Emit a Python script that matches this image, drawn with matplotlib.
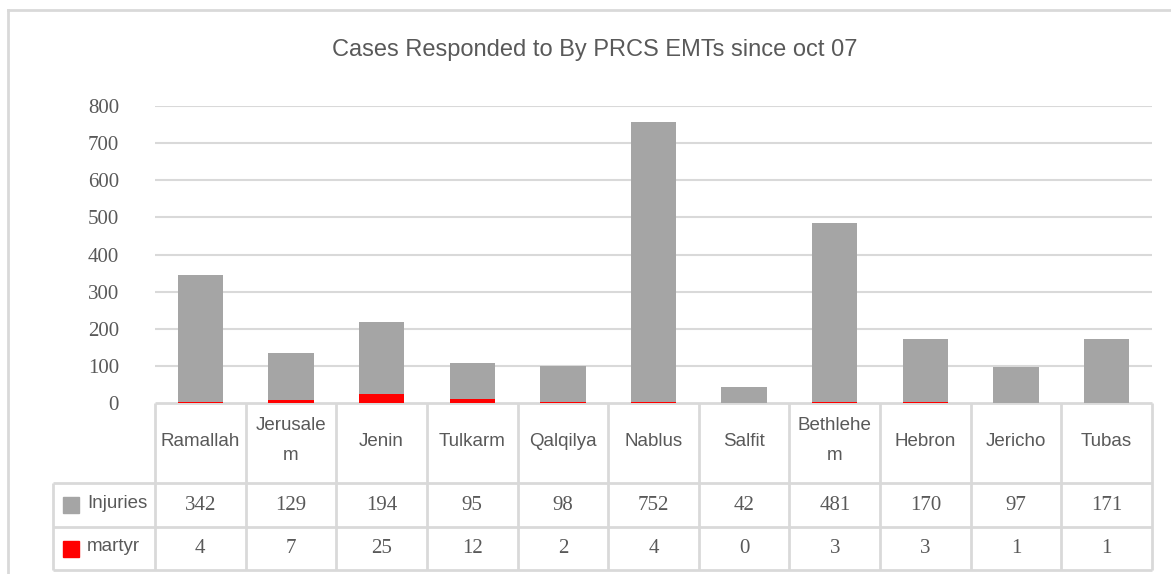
import matplotlib
matplotlib.use('Agg')
import matplotlib.pyplot as plt
import numpy as np
from matplotlib.patches import Rectangle

# data
cities = ['Ramallah', 'Jerusale\nm', 'Jenin', 'Tulkarm', 'Qalqilya', 'Nablus',
          'Salfit', 'Bethlehe\nm', 'Hebron', 'Jericho', 'Tubas']
injuries = [342, 129, 194, 95, 98, 752, 42, 481, 170, 97, 171]
martyr = [4, 7, 25, 12, 2, 4, 0, 3, 3, 1, 1]
series_names = ['Injuries', 'martyr']
yticks = [0, 100, 200, 300, 400, 500, 600, 700, 800]

GRAY = '#A5A5A5'
RED = '#FF0000'
GRID = '#D9D9D9'
TXT = '#595959'
SANS = 'Liberation Sans'
SERIF = 'Liberation Serif'

W, H = 1171, 574
fig = plt.figure(figsize=(W / 100, H / 100), dpi=100)

# pixel-space overlay for frame + table
tab = fig.add_axes([0, 0, 1, 1])
tab.set_xlim(0, W)
tab.set_ylim(H, 0)
tab.axis('off')

# plot area in pixels
px_left, px_right = 155, 1152
px_top, px_bot = 106, 403
ax = fig.add_axes([px_left / W, 1 - px_bot / H, (px_right - px_left) / W, (px_bot - px_top) / H])
ax.set_facecolor('none')

x = np.arange(len(cities))
ax.bar(x, martyr, width=0.5, color=RED, zorder=3)
ax.bar(x, injuries, bottom=martyr, width=0.5, color=GRAY, zorder=3)
ax.set_xlim(-0.5, len(cities) - 0.5)
ax.set_ylim(0, 800)
ax.set_yticks(yticks)
ax.set_yticklabels([str(t) for t in yticks], fontfamily=SERIF, fontsize=15, color=TXT)
ax.set_xticks([])
ax.tick_params(axis='y', length=0, pad=26)
for s in ax.spines.values():
    s.set_visible(False)
for t in yticks[1:]:
    ax.axhline(t, color=GRID, lw=1.5, zorder=1)

# title
fig.text(595 / W, 1 - 50 / H, 'Cases Responded to By PRCS EMTs since oct 07',
         ha='center', va='center', fontsize=17, fontfamily=SANS, color=TXT)

# outer chart frame (cut at right and bottom)
tab.plot([8, W], [10, 10], color=GRID, lw=2)
tab.plot([8, 8], [10, H], color=GRID, lw=2)

# data table
edges = np.linspace(px_left, px_right, len(cities) + 1)
centers = (edges[:-1] + edges[1:]) / 2
row_lines = [403, 483, 527, 570]
tab_left = 53
lc = dict(color=GRID, lw=2, solid_capstyle='butt')
tab.plot([px_left, px_right], [row_lines[0], row_lines[0]], **lc)
for y in row_lines[1:]:
    tab.plot([tab_left, px_right], [y, y], **lc)
for e in edges:
    tab.plot([e, e], [row_lines[0], row_lines[-1]], **lc)
tab.plot([tab_left, tab_left], [row_lines[1], row_lines[-1]], **lc)

for cx, name in zip(centers, cities):
    tab.text(cx, (row_lines[0] + row_lines[1]) / 2 - 2, name, ha='center', va='center',
             fontsize=13.5, fontfamily=SANS, color=TXT, linespacing=2.0)

rows = [injuries, martyr]
colors = [GRAY, RED]
for r, (vals, nm, c) in enumerate(zip(rows, series_names, colors)):
    yc = (row_lines[r + 1] + row_lines[r + 2]) / 2
    tab.add_patch(Rectangle((63, yc - 8), 16, 16, color=c))
    tab.text(87, yc - 2, nm, ha='left', va='center', fontsize=13.5, fontfamily=SANS, color=TXT)
    for cx, v in zip(centers, vals):
        tab.text(cx, yc, str(v), ha='center', va='center', fontsize=15,
                 fontfamily=SERIF, color=TXT)

fig.savefig('out.png', dpi=100)
